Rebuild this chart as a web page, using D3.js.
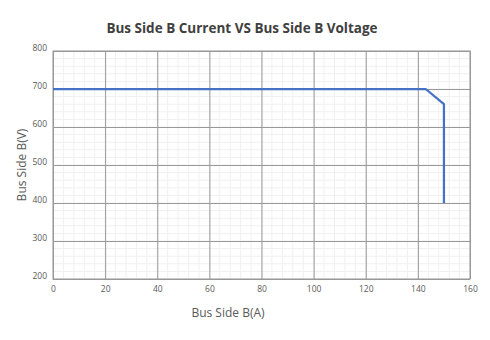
<!DOCTYPE html>
<html>
<head>
<meta charset="utf-8">
<script src="https://cdn.jsdelivr.net/npm/d3@7"></script>
<style>
	body { margin: 0; background: #fff; }
	svg text { font-family: 'Open Sans', 'Noto Sans', sans-serif; }
</style>
</head>
<body>
<div id="chart"></div>
<script>
// Data
var currentA = [0, 143, 150, 150];
var voltageV = [700, 700, 660, 400];
var xTicks = [0, 20, 40, 60, 80, 100, 120, 140, 160];
var yTicks = [200, 300, 400, 500, 600, 700, 800];

var width = 490;
var height = 340;
var margins = { top: 51, right: 20, bottom: 61, left: 53 };
var chartWidth = width - margins.left - margins.right;
var chartHeight = height - margins.top - margins.bottom;

var svg = d3.select('#chart')
	.append('svg')
	.attr('width', width)
	.attr('height', height);

var chartElement = svg.append('g')
	.attr('transform', 'translate(' + margins.left + ',' + margins.top + ')');

var xScale = d3.scaleLinear().domain([0, 160]).range([0, chartWidth]);
var yScale = d3.scaleLinear().domain([200, 800]).range([chartHeight, 0]);

// minor grid
var xMinor = d3.range(0, 161, 4);
var yMinor = d3.range(200, 801, 20);

chartElement.append('g')
	.selectAll('line')
	.data(xMinor)
	.enter()
	.append('line')
	.attr('x1', function(d) { return xScale(d); })
	.attr('x2', function(d) { return xScale(d); })
	.attr('y1', 0)
	.attr('y2', chartHeight)
	.attr('stroke', '#f0f0f0')
	.attr('stroke-width', 1);

chartElement.append('g')
	.selectAll('line')
	.data(yMinor)
	.enter()
	.append('line')
	.attr('x1', 0)
	.attr('x2', chartWidth)
	.attr('y1', function(d) { return yScale(d); })
	.attr('y2', function(d) { return yScale(d); })
	.attr('stroke', '#f0f0f0')
	.attr('stroke-width', 1);

// major grid
chartElement.append('g')
	.attr('transform', 'translate(0,' + chartHeight + ')')
	.call(d3.axisBottom(xScale).tickValues(xTicks).tickSize(-chartHeight).tickFormat(''))
	.call(function(g) {
		g.select('.domain').remove();
		g.selectAll('line').attr('stroke', '#999999');
	});

chartElement.append('g')
	.call(d3.axisLeft(yScale).tickValues(yTicks).tickSize(-chartWidth).tickFormat(''))
	.call(function(g) {
		g.select('.domain').remove();
		g.selectAll('line').attr('stroke', '#999999');
	});

// frame
chartElement.append('rect')
	.attr('x', 0)
	.attr('y', 0)
	.attr('width', chartWidth)
	.attr('height', chartHeight)
	.attr('fill', 'none')
	.attr('stroke', '#999999');

// tick labels
chartElement.append('g')
	.attr('transform', 'translate(0,' + chartHeight + ')')
	.call(d3.axisBottom(xScale).tickValues(xTicks).tickSize(0).tickPadding(7))
	.call(function(g) {
		g.select('.domain').remove();
		g.selectAll('text').attr('fill', '#595959').style('font-size', '8.5px');
	});

chartElement.append('g')
	.call(d3.axisLeft(yScale).tickValues(yTicks).tickSize(0).tickPadding(6))
	.call(function(g) {
		g.select('.domain').remove();
		g.selectAll('text').attr('fill', '#595959').style('font-size', '8.5px').attr('dy', '-0.1em');
	});

// series line
var points = currentA.map(function(d, i) {
	return { x: d, y: voltageV[i] };
});

var line = d3.line()
	.x(function(d) { return xScale(d.x); })
	.y(function(d) { return yScale(d.y); });

chartElement.append('path')
	.datum(points)
	.attr('d', line)
	.attr('fill', 'none')
	.attr('stroke', '#4472c4')
	.attr('stroke-width', 2.25)
	.attr('stroke-linejoin', 'round');

// titles
svg.append('text')
	.attr('x', 242)
	.attr('y', 33)
	.attr('text-anchor', 'middle')
	.attr('fill', '#404040')
	.style('font-size', '13.5px')
	.style('font-weight', 'bold')
	.text('Bus Side B Current VS Bus Side B Voltage');

svg.append('text')
	.attr('x', 228)
	.attr('y', 317)
	.attr('text-anchor', 'middle')
	.attr('fill', '#595959')
	.style('font-size', '12px')
	.text('Bus Side B(A)');

svg.append('text')
	.attr('transform', 'translate(26,' + (margins.top + chartHeight / 2) + ') rotate(-90)')
	.attr('text-anchor', 'middle')
	.attr('fill', '#595959')
	.style('font-size', '12px')
	.text('Bus Side B(V)');
</script>
</body>
</html>
